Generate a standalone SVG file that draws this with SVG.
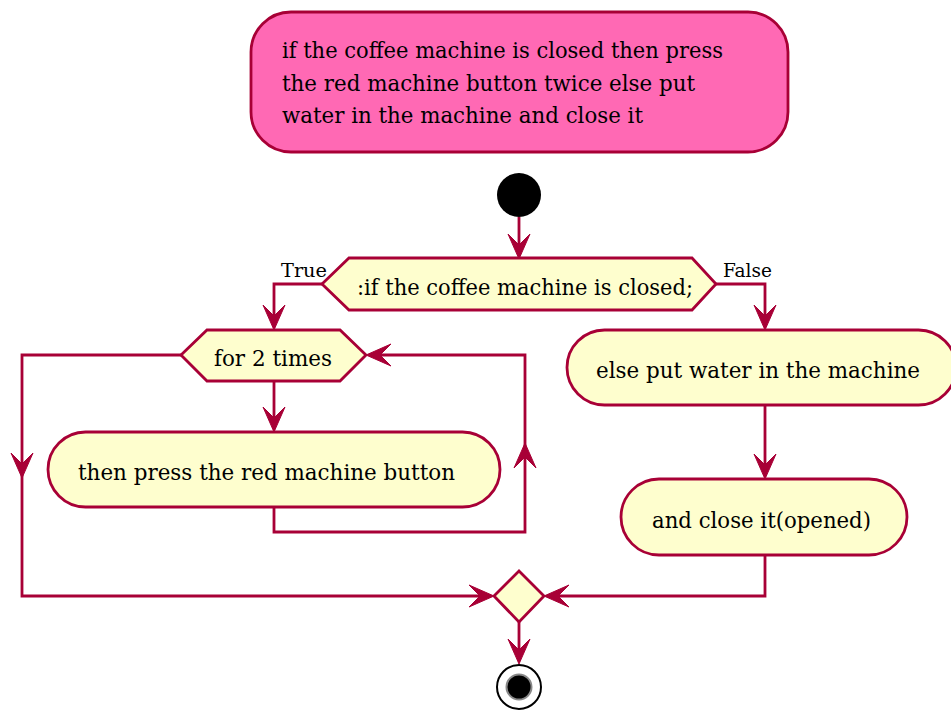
<svg xmlns="http://www.w3.org/2000/svg" xmlns:xlink="http://www.w3.org/1999/xlink" width="951" height="710" viewBox="0 0 951 710">
<style>
.node{fill:#FEFECE;stroke:#A80036;stroke-width:2.8}
.note{fill:#FF69B4;stroke:#A80036;stroke-width:2.8}
.t{font-family:"DejaVu Serif","Liberation Serif",serif;font-size:22px;fill:#000}
.lbl{font-family:"DejaVu Serif","Liberation Serif",serif;font-size:18px;fill:#000}
.ln{fill:none;stroke:#A80036;stroke-width:2.8;stroke-linejoin:miter}
.ah{fill:#A80036;stroke:#A80036;stroke-width:1}
</style>
<defs>
<path id="ah" d="M0,0 L-11,-25 L0,-14 L11,-25 Z"/>
</defs>
<rect width="951" height="710" fill="#FFFFFF"/>
<g id="note">
<rect class="note" x="251" y="12" width="537" height="140" rx="40" ry="40"/>
<text class="t" x="282" y="58" textLength="441" lengthAdjust="spacingAndGlyphs">if the coffee machine is closed then press</text>
<text class="t" x="282" y="91" textLength="413" lengthAdjust="spacingAndGlyphs">the red machine button twice else put</text>
<text class="t" x="282" y="123" textLength="361" lengthAdjust="spacingAndGlyphs">water in the machine and close it</text>
</g>
<g id="start">
<circle cx="519" cy="195" r="22" fill="#000"/>
</g>
<g id="decision">
<polygon class="node" points="322,284 349,258 692,258 716,284 692,310 349,310"/>
<text class="t" x="357" y="295" textLength="336" lengthAdjust="spacingAndGlyphs">:if the coffee machine is closed;</text>
</g>
<g id="loop">
<polygon class="node" points="181,355 207,330 340,330 366,355 340,381 207,381"/>
<text class="t" x="214" y="366" textLength="118" lengthAdjust="spacingAndGlyphs">for 2 times</text>
</g>
<g id="press">
<rect class="node" x="48" y="432" width="452" height="75" rx="37.5" ry="37.5"/>
<text class="t" x="78" y="480" textLength="377" lengthAdjust="spacingAndGlyphs">then press the red machine button</text>
</g>
<g id="water">
<rect class="node" x="567" y="330" width="389" height="75" rx="37.5" ry="37.5"/>
<text class="t" x="596" y="378" textLength="324" lengthAdjust="spacingAndGlyphs">else put water in the machine</text>
</g>
<g id="close">
<rect class="node" x="621" y="479" width="286" height="76" rx="38" ry="38"/>
<text class="t" x="652" y="528" textLength="219" lengthAdjust="spacingAndGlyphs">and close it(opened)</text>
</g>
<g id="merge">
<polygon class="node" points="494,596 519,571 544,596 519,622"/>
</g>
<g id="end">
<circle cx="519" cy="687" r="22" fill="#FFFFFF" stroke="#000" stroke-width="2"/>
<circle cx="519" cy="687" r="12.5" fill="#000" stroke="#888" stroke-width="2"/>
</g>
<g id="connectors">
<line class="ln" x1="519" y1="217" x2="519" y2="256"/>
<use xlink:href="#ah" class="ah" transform="translate(519,259)"/>
<polyline class="ln" points="322,284 274,284 274,327"/>
<use xlink:href="#ah" class="ah" transform="translate(274,330)"/>
<text class="lbl" x="281" y="277" textLength="46" lengthAdjust="spacingAndGlyphs">True</text>
<polyline class="ln" points="716,284 765,284 765,327"/>
<use xlink:href="#ah" class="ah" transform="translate(765,330)"/>
<text class="lbl" x="723" y="277" textLength="49" lengthAdjust="spacingAndGlyphs">False</text>
<line class="ln" x1="274" y1="381" x2="274" y2="429"/>
<use xlink:href="#ah" class="ah" transform="translate(274,432)"/>
<polyline class="ln" points="274,507 274,532 525,532 525,355 369,355"/>
<use xlink:href="#ah" class="ah" transform="translate(525,443) rotate(180)"/>
<use xlink:href="#ah" class="ah" transform="translate(366,355) rotate(90)"/>
<polyline class="ln" points="181,355 22,355 22,596 491,596"/>
<use xlink:href="#ah" class="ah" transform="translate(22,478)"/>
<use xlink:href="#ah" class="ah" transform="translate(494,596) rotate(-90)"/>
<line class="ln" x1="765" y1="405" x2="765" y2="476"/>
<use xlink:href="#ah" class="ah" transform="translate(765,479)"/>
<polyline class="ln" points="765,555 765,596 547,596"/>
<use xlink:href="#ah" class="ah" transform="translate(544,596) rotate(90)"/>
<line class="ln" x1="519" y1="622" x2="519" y2="661"/>
<use xlink:href="#ah" class="ah" transform="translate(519,664)"/>
</g>
</svg>
